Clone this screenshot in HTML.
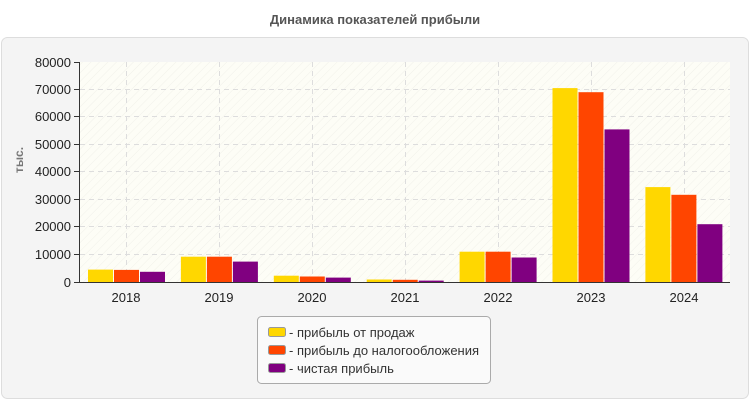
<!DOCTYPE html>
<html><head><meta charset="utf-8"><style>
body{margin:0;width:750px;height:400px;background:#fff;font-family:"Liberation Sans",sans-serif;overflow:hidden}
</style></head><body>
<svg width="750" height="400" xmlns="http://www.w3.org/2000/svg" font-family="Liberation Sans, sans-serif">
<defs>
<pattern id="h" width="6" height="6" patternUnits="userSpaceOnUse" patternTransform="rotate(-45)">
<rect width="6" height="6" fill="#fdfdf6"/><line x1="0" y1="0" x2="6" y2="0" stroke="#f1f1ea" stroke-width="1"/>
</pattern>
</defs>
<text x="375" y="24" text-anchor="middle" font-size="13" font-weight="bold" fill="#555">Динамика показателей прибыли</text>
<rect x="1.5" y="37.5" width="747" height="361" rx="6" fill="#f4f4f4" stroke="#ddd"/>
<rect x="80" y="62" width="650" height="220" fill="url(#h)"/>
<g stroke="#ddd" stroke-dasharray="5,4">
<line x1="80" x2="730" y1="89.5" y2="89.5"/><line x1="80" x2="730" y1="116.5" y2="116.5"/>
<line x1="80" x2="730" y1="144.5" y2="144.5"/><line x1="80" x2="730" y1="171.5" y2="171.5"/>
<line x1="80" x2="730" y1="199.5" y2="199.5"/><line x1="80" x2="730" y1="226.5" y2="226.5"/>
<line x1="80" x2="730" y1="254.5" y2="254.5"/>
<line x1="126.5" x2="126.5" y1="62" y2="282"/><line x1="219.5" x2="219.5" y1="62" y2="282"/>
<line x1="312.5" x2="312.5" y1="62" y2="282"/><line x1="405.5" x2="405.5" y1="62" y2="282"/>
<line x1="498.5" x2="498.5" y1="62" y2="282"/><line x1="591.5" x2="591.5" y1="62" y2="282"/>
<line x1="684.5" x2="684.5" y1="62" y2="282"/>
</g>
<g>
<rect x="88" y="269.6" width="25" height="12.4" fill="#ffd700"/><rect x="114" y="269.9" width="25" height="12.1" fill="#ff4500"/><rect x="140" y="271.8" width="25" height="10.2" fill="#800080"/>
<rect x="180.9" y="256.7" width="25" height="25.3" fill="#ffd700"/><rect x="206.9" y="256.7" width="25" height="25.3" fill="#ff4500"/><rect x="232.9" y="261.6" width="25" height="20.4" fill="#800080"/>
<rect x="273.8" y="275.7" width="25" height="6.3" fill="#ffd700"/><rect x="299.8" y="276.5" width="25" height="5.5" fill="#ff4500"/><rect x="325.8" y="277.6" width="25" height="4.4" fill="#800080"/>
<rect x="366.7" y="279.5" width="25" height="2.5" fill="#ffd700"/><rect x="392.7" y="279.8" width="25" height="2.2" fill="#ff4500"/><rect x="418.7" y="280.6" width="25" height="1.4" fill="#800080"/>
<rect x="459.6" y="251.7" width="25" height="30.3" fill="#ffd700"/><rect x="485.6" y="251.7" width="25" height="30.3" fill="#ff4500"/><rect x="511.6" y="257.5" width="25" height="24.5" fill="#800080"/>
<rect x="552.5" y="88.1" width="25" height="193.9" fill="#ffd700"/><rect x="578.5" y="92.2" width="25" height="189.8" fill="#ff4500"/><rect x="604.5" y="129.4" width="25" height="152.6" fill="#800080"/>
<rect x="645.4" y="187.1" width="25" height="94.9" fill="#ffd700"/><rect x="671.4" y="194.8" width="25" height="87.2" fill="#ff4500"/><rect x="697.4" y="224.2" width="25" height="57.8" fill="#800080"/>
</g>
<g stroke="#333"><line x1="79.5" x2="79.5" y1="62" y2="282"/><line x1="79" x2="730" y1="282.5" y2="282.5"/>
<line x1="74" x2="79" y1="62.5" y2="62.5"/><line x1="74" x2="79" y1="89.5" y2="89.5"/><line x1="74" x2="79" y1="116.5" y2="116.5"/><line x1="74" x2="79" y1="144.5" y2="144.5"/><line x1="74" x2="79" y1="171.5" y2="171.5"/><line x1="74" x2="79" y1="199.5" y2="199.5"/><line x1="74" x2="79" y1="226.5" y2="226.5"/><line x1="74" x2="79" y1="254.5" y2="254.5"/><line x1="74" x2="79" y1="282.5" y2="282.5"/></g>
<g font-size="13" fill="#222" text-anchor="end">
<text x="71" y="67">80000</text><text x="71" y="94">70000</text><text x="71" y="121">60000</text><text x="71" y="149">50000</text><text x="71" y="176">40000</text><text x="71" y="204">30000</text><text x="71" y="231">20000</text><text x="71" y="259">10000</text><text x="71" y="287">0</text>
</g>
<g font-size="13" fill="#222" text-anchor="middle">
<text x="126" y="302">2018</text><text x="219" y="302">2019</text><text x="312" y="302">2020</text><text x="405" y="302">2021</text><text x="498" y="302">2022</text><text x="591" y="302">2023</text><text x="684" y="302">2024</text>
</g>
<text transform="translate(23,160) rotate(-90)" text-anchor="middle" font-size="12" font-weight="bold" fill="#777">тыс.</text>
<rect x="257.5" y="316.5" width="233" height="67" rx="4" fill="#fafafa" stroke="#aaa"/>
<g font-size="13" fill="#333">
<rect x="268.5" y="327.5" width="17" height="9" rx="2" fill="#ffd700" stroke="#999"/><text x="289" y="337">- прибыль от продаж</text>
<rect x="268.5" y="345.5" width="17" height="9" rx="2" fill="#ff4500" stroke="#999"/><text x="289" y="355">- прибыль до налогообложения</text>
<rect x="268.5" y="363.5" width="17" height="9" rx="2" fill="#800080" stroke="#999"/><text x="289" y="373">- чистая прибыль</text>
</g>
</svg>
</body></html>
